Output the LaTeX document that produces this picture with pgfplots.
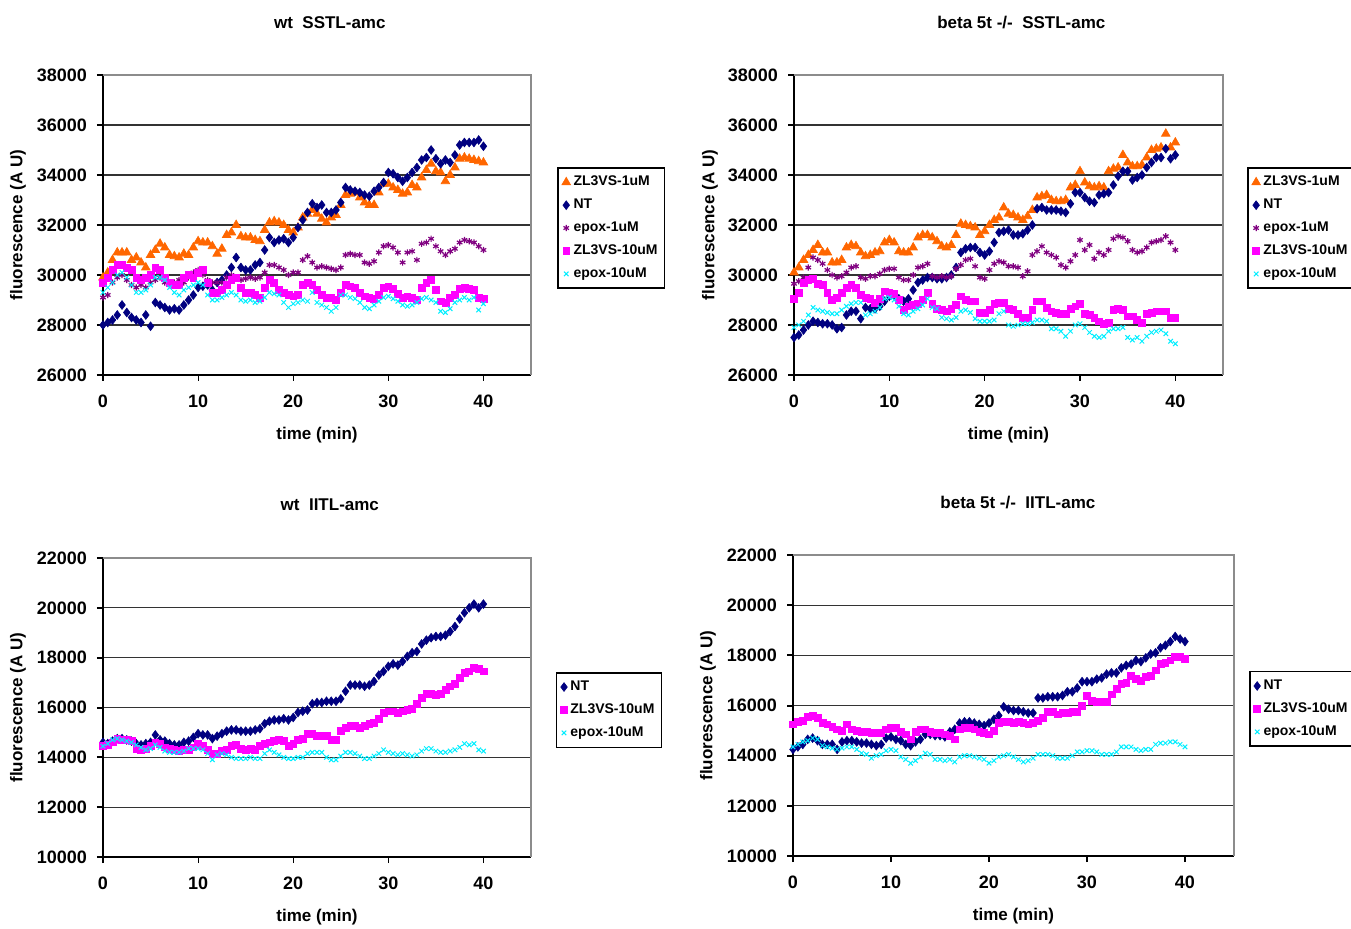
\documentclass[border=0pt]{standalone}
\usepackage{pgfplots}
\pgfplotsset{compat=1.18}
\usepackage{pgfplotstable}
\usepackage{fontspec}
\setmainfont{Liberation Sans}
\definecolor{cOr}{HTML}{FF6600}
\definecolor{cNT}{HTML}{000080}
\definecolor{cPu}{HTML}{800080}
\definecolor{cMa}{HTML}{FF00FF}
\definecolor{cCy}{HTML}{00EEFF}

% wt SSTL-amc: A=ZL3VS-1uM, B=NT, C=epox-1uM, D=ZL3VS-10uM, E=epox-10uM
\pgfplotstableread{
t A B C D E
0.0 29900 28000 29100 29700 29300
0.5 30100 28100 29200 29900 29500
1.0 30600 28200 29700 30200 29700
1.5 30900 28400 29900 30400 30000
2.0 30900 28800 30000 30400 30100
2.5 30900 28500 29800 30300 29900
3.0 30600 28300 29600 30200 29600
3.5 30700 28200 29500 29900 29300
4.0 30500 28100 29600 29800 29300
4.5 30300 28400 29500 29900 29400
5.0 30800 27950 29700 30000 29600
5.5 31000 28900 29800 30300 29900
6.0 31250 28800 29900 30200 29900
6.5 31100 28700 29700 29900 29800
7.0 30800 28600 29600 29700 29500
7.5 30750 28650 29700 29600 29300
8.0 30700 28600 29800 29600 29200
8.5 30850 28800 29700 29900 29400
9.0 30800 29000 29900 30000 29500
9.5 31100 29200 30100 29900 29600
10.0 31350 29500 30200 30100 29700
10.5 31300 29550 30000 30200 29600
11.0 31300 29600 29800 29700 29200
11.5 31150 29400 29700 29300 29000
12.0 30850 29700 29700 29300 29000
12.5 31050 29800 29700 29400 29100
13.0 31600 30000 29900 29600 29200
13.5 31700 30300 30000 29800 29300
14.0 32000 30700 29900 29900 29200
14.5 31550 30300 29800 29500 29000
15.0 31500 30200 29850 29300 28950
15.5 31500 30200 29900 29300 29000
16.0 31400 30400 29850 29200 28900
16.5 31350 30500 29900 29100 28950
17.0 31800 31000 30100 29500 29100
17.5 32100 31500 30400 29800 29300
18.0 32150 31300 30400 29700 29250
18.5 32100 31400 30300 29400 29200
19.0 32000 31450 30200 29300 28900
19.5 31800 31300 30000 29200 28700
20.0 31700 31500 30100 29150 28850
20.5 31900 31900 30100 29200 28900
21.0 32300 32200 30600 29600 29000
21.5 32450 32500 30750 29700 28950
22.0 32600 32850 30500 29600 29300
22.5 32450 32700 30300 29400 28900
23.0 32250 32800 30350 29200 28800
23.5 32100 32500 30300 29100 28700
24.0 32300 32500 30250 29100 28550
24.5 32400 32600 30200 29000 28700
25.0 32800 32900 30300 29300 29200
25.5 33200 33500 30800 29600 29200
26.0 33250 33400 30850 29550 29100
26.5 33300 33350 30800 29500 29050
27.0 33100 33300 30800 29300 28900
27.5 32900 33200 30500 29150 28700
28.0 32800 33150 30450 29100 28650
28.5 32800 33350 30550 29050 28800
29.0 33300 33500 30900 29200 28950
29.5 33650 33700 31150 29500 29100
30.0 33650 34100 31200 29550 29150
30.5 33500 34050 31100 29450 29050
31.0 33400 33900 30900 29250 28950
31.5 33250 33750 30500 29100 28800
32.0 33300 33900 30900 29150 28750
32.5 33600 34100 30950 29100 28800
33.0 33500 34300 30600 29000 28900
33.5 33900 34600 31250 29500 29050
34.0 34200 34700 31300 29700 29100
34.5 34450 35000 31450 29800 29000
35.0 34150 34650 31150 29400 28900
35.5 34100 34450 30950 28950 28550
36.0 33750 34600 30800 28900 28500
36.5 34000 34500 30950 29100 28650
37.0 34300 34800 31050 29200 28900
37.5 34650 35200 31300 29450 29000
38.0 34700 35300 31400 29500 29100
38.5 34650 35300 31350 29450 29000
39.0 34600 35300 31300 29400 29100
39.5 34550 35400 31150 29100 28600
40.0 34500 35150 31000 29050 28850
}\tA

% beta 5t -/- SSTL-amc
\pgfplotstableread{
t A B C D E
0.0 30100 27500 29650 29050 27900
0.5 30300 27600 29750 29300 28000
1.0 30600 27800 29900 29700 28150
1.5 30800 28000 30300 29800 28400
2.0 31000 28150 30700 29850 28700
2.5 31200 28100 30600 29650 28600
3.0 30900 28050 30450 29600 28550
3.5 30900 28050 30200 29300 28500
4.0 30500 28000 30000 29000 28450
4.5 30500 27850 29900 29100 28450
5.0 30600 27900 29950 29300 28600
5.5 31100 28400 30100 29500 28750
6.0 31200 28550 30300 29600 28850
6.5 31150 28550 30350 29500 28900
7.0 30900 28250 29900 29200 28900
7.5 30750 28700 29850 29100 28400
8.0 30800 28650 29950 29050 28450
8.5 30900 28650 29950 28900 28550
9.0 30950 28750 30050 29050 28700
9.5 31300 28950 30200 29350 29050
10.0 31400 29150 30250 29300 29100
10.5 31300 29200 30250 29250 29000
11.0 30950 29050 29900 29000 28750
11.5 30900 28950 29800 28600 28450
12.0 30900 29050 29800 28750 28400
12.5 31100 29400 30000 28800 28550
13.0 31500 29700 30300 28850 28650
13.5 31600 29800 30350 29000 28800
14.0 31600 29900 30450 29300 29050
14.5 31500 29900 29950 28850 28700
15.0 31350 29850 29900 28650 28650
15.5 31150 29850 29950 28600 28300
16.0 31100 29900 29900 28550 28250
16.5 31200 30000 29950 28650 28200
17.0 31600 30300 30250 28800 28300
17.5 32050 30900 30400 29150 28550
18.0 32000 31050 30600 29000 28600
18.5 31950 31100 30650 28950 28500
19.0 31900 31100 30350 28950 28250
19.5 31600 30900 29900 28500 28150
20.0 31750 30800 29850 28500 28150
20.5 32000 30950 30200 28600 28150
21.0 32200 31300 30450 28850 28200
21.5 32300 31700 30550 28900 28450
22.0 32700 31750 30500 28900 28550
22.5 32450 31800 30350 28650 28000
23.0 32400 31600 30350 28600 27950
23.5 32300 31600 30300 28450 28000
24.0 32200 31650 29950 28300 28050
24.5 32350 31800 30150 28300 28050
25.0 32600 32000 30800 28600 28100
25.5 33100 32650 30950 28950 28200
26.0 33150 32700 31150 28950 28200
26.5 33200 32600 30900 28700 28150
27.0 33000 32600 30800 28550 27850
27.5 32950 32600 30700 28500 27850
28.0 32950 32550 30400 28450 27750
28.5 33000 32500 30300 28450 27550
29.0 33500 32850 30550 28650 27750
29.5 33600 33300 30800 28750 28000
30.0 34150 33300 31400 28850 28050
30.5 33700 33100 31000 28450 27900
31.0 33550 32950 31200 28400 27700
31.5 33500 32900 30650 28300 27550
32.0 33550 33200 30900 28150 27500
32.5 33500 33250 30800 28050 27550
33.0 34150 33300 31000 28100 27750
33.5 34250 33600 31450 28600 27850
34.0 34300 33950 31550 28650 27850
34.5 34800 34150 31500 28600 27900
35.0 34500 34150 31350 28350 27500
35.5 34350 33800 31000 28350 27400
36.0 34350 33900 30900 28200 27500
36.5 34400 34000 30950 28100 27350
37.0 34700 34300 31100 28450 27550
37.5 35000 34500 31300 28500 27700
38.0 35050 34700 31350 28550 27750
38.5 35100 34700 31400 28550 27800
39.0 35650 35050 31550 28550 27650
39.5 35100 34650 31300 28300 27350
40.0 35300 34800 31000 28300 27250
}\tB

% wt IITL-amc: B=NT, D=ZL3VS-10uM, E=epox-10uM
\pgfplotstableread{
t B D E
0.0 14600 14450 14450
0.5 14550 14500 14550
1.0 14650 14600 14700
1.5 14750 14750 14750
2.0 14750 14700 14700
2.5 14700 14700 14650
3.0 14650 14650 14600
3.5 14550 14350 14500
4.0 14500 14300 14400
4.5 14550 14350 14300
5.0 14600 14450 14350
5.5 14900 14600 14500
6.0 14700 14550 14400
6.5 14650 14400 14250
7.0 14550 14350 14200
7.5 14500 14300 14200
8.0 14500 14250 14200
8.5 14600 14300 14250
9.0 14650 14300 14350
9.5 14800 14400 14350
10.0 14950 14550 14350
10.5 14900 14450 14300
11.0 14900 14300 14150
11.5 14750 14150 13900
12.0 14850 14150 14100
12.5 14950 14250 14150
13.0 15050 14300 14100
13.5 15100 14450 14000
14.0 15100 14500 13950
14.5 15050 14350 13950
15.0 15050 14300 13950
15.5 15050 14350 14000
16.0 15100 14300 13950
16.5 15150 14450 13950
17.0 15350 14550 14150
17.5 15450 14600 14300
18.0 15500 14650 14200
18.5 15500 14700 14100
19.0 15550 14650 14000
19.5 15500 14450 13950
20.0 15600 14550 13950
20.5 15800 14700 14000
21.0 15850 14750 14000
21.5 15900 14950 14150
22.0 16150 14950 14200
22.5 16200 14850 14200
23.0 16200 14850 14200
23.5 16250 14850 14000
24.0 16250 14700 13900
24.5 16250 14700 13900
25.0 16350 15050 14050
25.5 16650 15200 14200
26.0 16900 15250 14200
26.5 16900 15250 14150
27.0 16900 15200 14050
27.5 16850 15250 13950
28.0 16900 15350 13950
28.5 17050 15400 14050
29.0 17300 15550 14150
29.5 17450 15800 14300
30.0 17650 15850 14200
30.5 17750 15850 14150
31.0 17700 15800 14100
31.5 17850 15850 14150
32.0 18050 15900 14100
32.5 18200 15950 14050
33.0 18250 16150 14100
33.5 18550 16400 14250
34.0 18700 16550 14350
34.5 18800 16550 14350
35.0 18850 16500 14250
35.5 18850 16550 14200
36.0 18900 16700 14200
36.5 19050 16850 14250
37.0 19250 16950 14300
37.5 19550 17200 14400
38.0 19800 17400 14550
38.5 20000 17450 14500
39.0 20150 17600 14550
39.5 20000 17550 14300
40.0 20150 17450 14250
}\tC

% beta 5t -/- IITL-amc
\pgfplotstableread{
t B D E
0.0 14250 15250 14350
0.5 14350 15350 14450
1.0 14450 15400 14550
1.5 14650 15550 14600
2.0 14700 15600 14700
2.5 14600 15500 14650
3.0 14450 15300 14400
3.5 14450 15250 14350
4.0 14450 15150 14300
4.5 14250 15050 14250
5.0 14550 15000 14300
5.5 14600 15250 14350
6.0 14600 15050 14350
6.5 14550 15000 14250
7.0 14500 14950 14100
7.5 14500 14950 14050
8.0 14450 14900 13900
8.5 14400 14900 14000
9.0 14450 14900 14050
9.5 14700 15050 14200
10.0 14750 15100 14250
10.5 14650 15100 14200
11.0 14600 14950 13950
11.5 14450 14850 13850
12.0 14400 14650 13700
12.5 14550 14950 13800
13.0 14650 15050 13950
13.5 14850 15050 14100
14.0 14850 14950 14050
14.5 14800 14900 13850
15.0 14800 14900 13850
15.5 14750 14850 13800
16.0 14950 14800 13850
16.5 15050 14650 13750
17.0 15300 15050 13950
17.5 15350 15100 14000
18.0 15350 15100 14000
18.5 15300 15050 13950
19.0 15250 14950 13900
19.5 15200 14900 13850
20.0 15300 14850 13700
20.5 15450 15000 13800
21.0 15600 15300 13950
21.5 15950 15350 14000
22.0 15850 15350 14050
22.5 15800 15300 13950
23.0 15800 15350 13850
23.5 15750 15300 13750
24.0 15700 15250 13800
24.5 15700 15300 13900
25.0 16300 15400 14050
25.5 16300 15500 14050
26.0 16350 15750 14050
26.5 16350 15750 14000
27.0 16350 15650 13900
27.5 16400 15700 13900
28.0 16550 15700 13900
28.5 16550 15750 14000
29.0 16700 15750 14150
29.5 16950 16000 14150
30.0 16950 16400 14200
30.5 16950 16200 14200
31.0 17050 16150 14150
31.5 17100 16150 14050
32.0 17250 16150 14050
32.5 17300 16450 14050
33.0 17300 16650 14150
33.5 17500 16850 14350
34.0 17600 16900 14350
34.5 17650 17200 14350
35.0 17800 17050 14250
35.5 17750 17000 14200
36.0 17900 17150 14250
36.5 18050 17200 14250
37.0 18100 17400 14450
37.5 18300 17650 14500
38.0 18400 17700 14500
38.5 18550 17800 14550
39.0 18750 17950 14550
39.5 18650 17950 14450
40.0 18550 17850 14350
}\tD

\pgfplotsset{
  panel/.style={
    scale only axis, anchor=south west,
    xmin=0, xmax=45, xtick={0,10,20,30,40},
    axis x line*=bottom, axis y line*=left,
    axis line style={-, line width=1.1pt, black},
    ymajorgrids, major grid style={black!80, line width=0.6pt},
    tick align=outside, major tick length=3pt,
    tick style={black, line width=1pt},
    xtick style={line width=0.6pt},
    ticklabel style={font=\fontsize{9}{10}\selectfont\bfseries},
    /pgf/number format/assume math mode=true,
    /pgf/number format/1000 sep={},
    scaled y ticks=false,
    xticklabel style={anchor=center, yshift=-10pt},
    yticklabel style={anchor=east, xshift=-1.5pt},
    title style={font=\fontsize{8.5}{10}\selectfont\bfseries, anchor=center},
    xlabel style={font=\fontsize{8.5}{10}\selectfont\bfseries, anchor=center},
    ylabel style={font=\fontsize{8.5}{10}\selectfont\bfseries, anchor=center},
    legend cell align=left,
    legend image code/.code={\draw[##1] plot coordinates {(0.08cm,0cm)};},
    legend style={anchor=north west, draw=black, line width=0.8pt,
      font=\fontsize{7}{8}\selectfont\bfseries, inner xsep=2pt, inner ysep=3.5pt,
      row sep=4.1pt, nodes={inner xsep=1.5pt, inner ysep=0.5pt}},
    after end axis/.code={\draw[black!45, line width=0.6pt] (rel axis cs:0,1) -- (rel axis cs:1,1) -- (rel axis cs:1,0);},
  },
  sOr/.style={only marks, mark=triangle*, mark size=2.5pt, color=cOr, line width=0.3pt},
  sNT/.style={only marks, mark=diamond*, mark size=2.2pt, color=cNT, line width=0.3pt},
  sPu/.style={only marks, mark=asterisk, mark size=1.6pt, color=cPu, line width=0.6pt},
  sMa/.style={only marks, mark=square*, mark size=1.7pt, color=cMa, line width=0.3pt},
  sCy/.style={only marks, mark=x, mark size=1.6pt, color=cCy, line width=0.5pt},
}

\begin{document}
\begin{tikzpicture}
% panel 1
\begin{axis}[panel, at={(51.5pt,276.5pt)}, width=214pt, height=150pt,
  ymin=26000, ymax=38000, ytick={26000,28000,...,38000},
  title={wt\ \ SSTL-amc}, title style={at={([yshift=20pt]axis description cs:0.53,1)}},
  xlabel={time (min)}, xlabel style={at={([yshift=-30pt]axis description cs:0.5,0)}},
  ylabel={fluorescence (A U)}, ylabel style={at={([xshift=-42.5pt]axis description cs:0,0.5)}},
  legend style={at={(1.061,0.693)}}]
\addplot[sOr] table[x=t,y=A]{\tA};
\addplot[sNT] table[x=t,y=B]{\tA};
\addplot[sPu] table[x=t,y=C]{\tA};
\addplot[sMa] table[x=t,y=D]{\tA};
\addplot[sCy] table[x=t,y=E]{\tA};
\legend{ZL3VS-1uM,NT,epox-1uM,ZL3VS-10uM,epox-10uM}
\end{axis}
% panel 2
\begin{axis}[panel, at={(397pt,276.5pt)}, width=214.5pt, height=150pt,
  ymin=26000, ymax=38000, ytick={26000,28000,...,38000},
  title={beta 5t -/-\ \ SSTL-amc}, title style={at={([yshift=20pt]axis description cs:0.53,1)}},
  xlabel={time (min)}, xlabel style={at={([yshift=-30pt]axis description cs:0.5,0)}},
  ylabel={fluorescence (A U)}, ylabel style={at={([xshift=-42pt]axis description cs:0,0.5)}},
  legend style={at={(1.056,0.693)}}]
\addplot[sOr] table[x=t,y=A]{\tB};
\addplot[sNT] table[x=t,y=B]{\tB};
\addplot[sPu] table[x=t,y=C]{\tB};
\addplot[sMa] table[x=t,y=D]{\tB};
\addplot[sCy] table[x=t,y=E]{\tB};
\legend{ZL3VS-1uM,NT,epox-1uM,ZL3VS-10uM,epox-10uM}
\end{axis}
% panel 3
\begin{axis}[panel, at={(51.5pt,35.5pt)}, width=214pt, height=149.5pt,
  ymin=10000, ymax=22000, ytick={10000,12000,...,22000},
  title={wt\ \ IITL-amc}, title style={at={([yshift=20.5pt]axis description cs:0.53,1)}},
  xlabel={time (min)}, xlabel style={at={([yshift=-30pt]axis description cs:0.5,0)}},
  ylabel={fluorescence (A U)}, ylabel style={at={([xshift=-42.5pt]axis description cs:0,0.5)}},
  legend style={at={(1.058,0.619)}}]
\addplot[sNT] table[x=t,y=B]{\tC};
\addplot[sMa] table[x=t,y=D]{\tC};
\addplot[sCy] table[x=t,y=E]{\tC};
\legend{NT,ZL3VS-10uM,epox-10uM}
\end{axis}
% panel 4
\begin{axis}[panel, at={(396.5pt,36pt)}, width=220.5pt, height=150.5pt,
  ymin=10000, ymax=22000, ytick={10000,12000,...,22000},
  title={beta 5t -/-\ \ IITL-amc}, title style={at={([yshift=20pt]axis description cs:0.51,1)}},
  xlabel={time (min)}, xlabel style={at={([yshift=-30pt]axis description cs:0.5,0)}},
  ylabel={fluorescence (A U)}, ylabel style={at={([xshift=-42.5pt]axis description cs:0,0.5)}},
  legend style={at={(1.034,0.615)}}]
\addplot[sNT] table[x=t,y=B]{\tD};
\addplot[sMa] table[x=t,y=D]{\tD};
\addplot[sCy] table[x=t,y=E]{\tD};
\legend{NT,ZL3VS-10uM,epox-10uM}
\end{axis}
\pgfresetboundingbox
\useasboundingbox (0,0) rectangle (675.5pt,464pt);
\end{tikzpicture}
\end{document}
